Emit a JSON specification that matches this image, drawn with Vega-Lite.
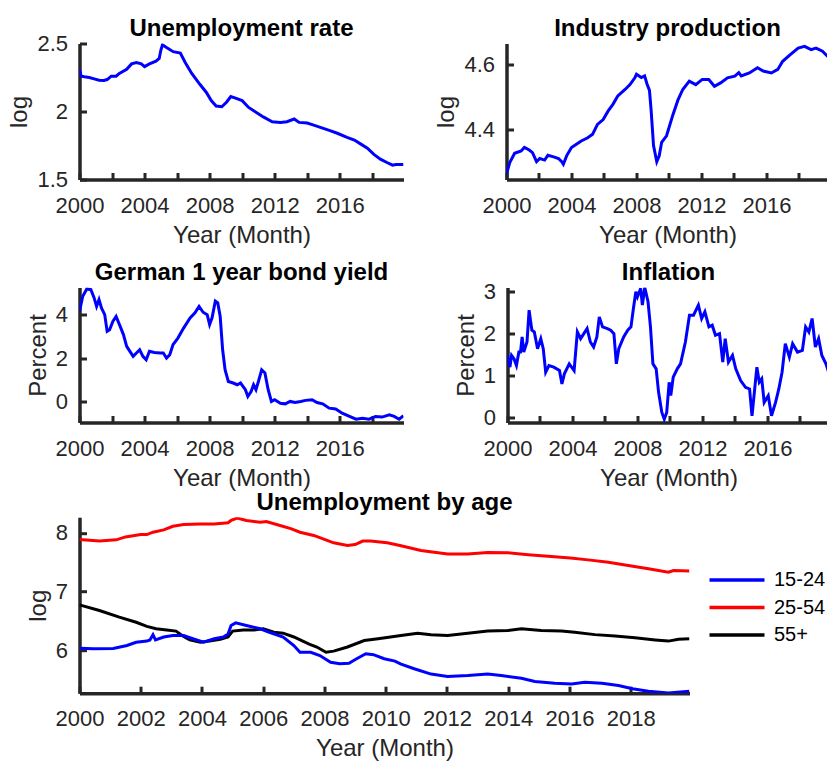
{
  "$schema": "https://vega.github.io/schema/vega-lite/v6.json",
  "autosize": {"type": "pad"},
  "padding": {"left": 6.5, "top": 16.5, "right": 0, "bottom": 0},
  "background": "white",
  "spacing": -0.3,
  "datasets": {
    "unemp": [
      {"t":2000.0,"v":2.31},{"t":2000.1,"v":2.26},{"t":2000.3,"v":2.255},{"t":2000.6,"v":2.25},{"t":2000.9,"v":2.24},{"t":2001.2,"v":2.23},{"t":2001.5,"v":2.228},{"t":2001.7,"v":2.235},{"t":2001.95,"v":2.26},{"t":2002.25,"v":2.26},{"t":2002.45,"v":2.28},{"t":2002.9,"v":2.31},{"t":2003.2,"v":2.35},{"t":2003.5,"v":2.36},{"t":2003.8,"v":2.35},{"t":2004.0,"v":2.33},{"t":2004.3,"v":2.35},{"t":2004.7,"v":2.37},{"t":2004.9,"v":2.39},{"t":2005.0,"v":2.45},{"t":2005.1,"v":2.49},{"t":2005.35,"v":2.47},{"t":2005.76,"v":2.44},{"t":2006.2,"v":2.43},{"t":2006.5,"v":2.36},{"t":2006.9,"v":2.28},{"t":2007.4,"v":2.2},{"t":2007.8,"v":2.14},{"t":2008.1,"v":2.08},{"t":2008.4,"v":2.04},{"t":2008.75,"v":2.035},{"t":2009.05,"v":2.07},{"t":2009.3,"v":2.11},{"t":2009.55,"v":2.1},{"t":2010.0,"v":2.08},{"t":2010.4,"v":2.03},{"t":2010.9,"v":1.99},{"t":2011.3,"v":1.96},{"t":2011.85,"v":1.925},{"t":2012.35,"v":1.92},{"t":2012.75,"v":1.925},{"t":2013.2,"v":1.945},{"t":2013.5,"v":1.92},{"t":2014.0,"v":1.915},{"t":2014.4,"v":1.9},{"t":2014.9,"v":1.88},{"t":2015.4,"v":1.86},{"t":2015.85,"v":1.84},{"t":2016.45,"v":1.81},{"t":2016.9,"v":1.79},{"t":2017.3,"v":1.76},{"t":2017.7,"v":1.73},{"t":2018.1,"v":1.685},{"t":2018.5,"v":1.65},{"t":2018.9,"v":1.625},{"t":2019.25,"v":1.605},{"t":2019.45,"v":1.61},{"t":2019.92,"v":1.61}
    ],
    "indprod": [
      {"t":2000.0,"v":4.262},{"t":2000.2,"v":4.297},{"t":2000.5,"v":4.326},{"t":2000.9,"v":4.333},{"t":2001.1,"v":4.344},{"t":2001.4,"v":4.336},{"t":2001.6,"v":4.328},{"t":2001.85,"v":4.3},{"t":2002.05,"v":4.31},{"t":2002.35,"v":4.305},{"t":2002.55,"v":4.32},{"t":2002.9,"v":4.315},{"t":2003.2,"v":4.31},{"t":2003.4,"v":4.3},{"t":2003.5,"v":4.292},{"t":2003.7,"v":4.318},{"t":2004.0,"v":4.344},{"t":2004.3,"v":4.354},{"t":2004.6,"v":4.364},{"t":2005.0,"v":4.374},{"t":2005.3,"v":4.385},{"t":2005.6,"v":4.415},{"t":2005.95,"v":4.43},{"t":2006.25,"v":4.456},{"t":2006.55,"v":4.477},{"t":2006.85,"v":4.503},{"t":2007.3,"v":4.523},{"t":2007.6,"v":4.538},{"t":2007.9,"v":4.559},{"t":2008.0,"v":4.57},{"t":2008.3,"v":4.56},{"t":2008.5,"v":4.565},{"t":2008.65,"v":4.54},{"t":2008.8,"v":4.52},{"t":2008.9,"v":4.46},{"t":2009.05,"v":4.35},{"t":2009.25,"v":4.3},{"t":2009.4,"v":4.318},{"t":2009.55,"v":4.36},{"t":2009.85,"v":4.38},{"t":2010.25,"v":4.446},{"t":2010.55,"v":4.49},{"t":2010.85,"v":4.523},{"t":2011.25,"v":4.549},{"t":2011.65,"v":4.538},{"t":2012.05,"v":4.554},{"t":2012.45,"v":4.554},{"t":2012.8,"v":4.533},{"t":2013.2,"v":4.544},{"t":2013.6,"v":4.559},{"t":2014.05,"v":4.564},{"t":2014.3,"v":4.575},{"t":2014.45,"v":4.565},{"t":2014.95,"v":4.574},{"t":2015.45,"v":4.59},{"t":2015.8,"v":4.58},{"t":2016.3,"v":4.574},{"t":2016.7,"v":4.585},{"t":2017.0,"v":4.61},{"t":2017.45,"v":4.63},{"t":2017.95,"v":4.651},{"t":2018.35,"v":4.656},{"t":2018.75,"v":4.646},{"t":2019.05,"v":4.651},{"t":2019.45,"v":4.641},{"t":2019.75,"v":4.626},{"t":2019.92,"v":4.62}
    ],
    "bond": [
      {"t":2000.0,"v":4.15},{"t":2000.2,"v":4.85},{"t":2000.45,"v":5.18},{"t":2000.7,"v":5.15},{"t":2000.9,"v":4.77},{"t":2001.05,"v":4.38},{"t":2001.2,"v":4.69},{"t":2001.35,"v":4.31},{"t":2001.55,"v":4.0},{"t":2001.7,"v":3.23},{"t":2001.85,"v":3.3},{"t":2002.05,"v":3.69},{"t":2002.25,"v":3.92},{"t":2002.5,"v":3.46},{"t":2002.7,"v":3.08},{"t":2002.9,"v":2.54},{"t":2003.1,"v":2.31},{"t":2003.3,"v":2.08},{"t":2003.5,"v":2.23},{"t":2003.7,"v":2.38},{"t":2003.9,"v":2.08},{"t":2004.1,"v":1.92},{"t":2004.3,"v":2.31},{"t":2004.6,"v":2.26},{"t":2004.95,"v":2.23},{"t":2005.15,"v":2.23},{"t":2005.35,"v":2.0},{"t":2005.55,"v":2.15},{"t":2005.75,"v":2.62},{"t":2006.05,"v":2.92},{"t":2006.4,"v":3.38},{"t":2006.8,"v":3.85},{"t":2007.1,"v":4.08},{"t":2007.35,"v":4.38},{"t":2007.6,"v":4.11},{"t":2007.85,"v":4.0},{"t":2008.0,"v":3.54},{"t":2008.15,"v":3.85},{"t":2008.35,"v":4.62},{"t":2008.5,"v":4.54},{"t":2008.65,"v":3.92},{"t":2008.8,"v":2.38},{"t":2008.95,"v":1.46},{"t":2009.15,"v":0.92},{"t":2009.45,"v":0.85},{"t":2009.7,"v":0.77},{"t":2009.9,"v":0.85},{"t":2010.2,"v":0.54},{"t":2010.35,"v":0.23},{"t":2010.55,"v":0.46},{"t":2010.7,"v":0.77},{"t":2010.85,"v":0.54},{"t":2011.0,"v":0.92},{"t":2011.2,"v":1.46},{"t":2011.4,"v":1.31},{"t":2011.6,"v":0.54},{"t":2011.8,"v":0.0},{"t":2012.0,"v":0.08},{"t":2012.35,"v":-0.08},{"t":2012.65,"v":-0.11},{"t":2012.95,"v":0.0},{"t":2013.25,"v":-0.05},{"t":2013.6,"v":0.0},{"t":2013.9,"v":0.05},{"t":2014.3,"v":0.08},{"t":2014.6,"v":-0.05},{"t":2014.95,"v":-0.11},{"t":2015.35,"v":-0.31},{"t":2015.75,"v":-0.35},{"t":2016.15,"v":-0.54},{"t":2016.6,"v":-0.69},{"t":2017.0,"v":-0.82},{"t":2017.4,"v":-0.77},{"t":2017.8,"v":-0.82},{"t":2018.2,"v":-0.69},{"t":2018.6,"v":-0.72},{"t":2019.05,"v":-0.62},{"t":2019.35,"v":-0.69},{"t":2019.65,"v":-0.82},{"t":2019.92,"v":-0.66}
    ],
    "infl": [
      {"t":2000.0,"v":1.48},{"t":2000.15,"v":1.2},{"t":2000.25,"v":1.48},{"t":2000.4,"v":1.4},{"t":2000.55,"v":1.24},{"t":2000.7,"v":1.56},{"t":2000.8,"v":1.56},{"t":2000.9,"v":1.92},{"t":2001.0,"v":1.56},{"t":2001.2,"v":1.8},{"t":2001.33,"v":2.56},{"t":2001.5,"v":2.08},{"t":2001.65,"v":2.04},{"t":2001.85,"v":1.64},{"t":2002.05,"v":1.88},{"t":2002.2,"v":1.64},{"t":2002.35,"v":1.08},{"t":2002.55,"v":1.24},{"t":2002.85,"v":1.2},{"t":2003.2,"v":1.12},{"t":2003.35,"v":0.8},{"t":2003.5,"v":1.04},{"t":2003.8,"v":1.28},{"t":2004.1,"v":1.12},{"t":2004.3,"v":2.04},{"t":2004.5,"v":1.88},{"t":2004.7,"v":2.0},{"t":2004.9,"v":2.12},{"t":2005.1,"v":1.8},{"t":2005.3,"v":1.68},{"t":2005.5,"v":1.92},{"t":2005.65,"v":2.4},{"t":2005.85,"v":2.16},{"t":2006.15,"v":2.12},{"t":2006.35,"v":2.08},{"t":2006.55,"v":2.0},{"t":2006.7,"v":1.28},{"t":2006.85,"v":1.64},{"t":2007.15,"v":1.92},{"t":2007.4,"v":2.08},{"t":2007.6,"v":2.16},{"t":2007.75,"v":2.6},{"t":2007.9,"v":3.0},{"t":2008.0,"v":2.88},{"t":2008.2,"v":3.08},{"t":2008.3,"v":2.68},{"t":2008.45,"v":3.1},{"t":2008.65,"v":2.76},{"t":2008.8,"v":2.16},{"t":2008.95,"v":1.28},{"t":2009.15,"v":1.16},{"t":2009.3,"v":0.6},{"t":2009.5,"v":0.12},{"t":2009.65,"v":-0.04},{"t":2009.8,"v":0.12},{"t":2009.95,"v":0.84},{"t":2010.05,"v":0.52},{"t":2010.2,"v":0.96},{"t":2010.45,"v":1.16},{"t":2010.65,"v":1.28},{"t":2010.95,"v":1.8},{"t":2011.2,"v":2.44},{"t":2011.45,"v":2.44},{"t":2011.75,"v":2.68},{"t":2011.95,"v":2.36},{"t":2012.15,"v":2.52},{"t":2012.4,"v":2.16},{"t":2012.6,"v":2.2},{"t":2012.8,"v":1.96},{"t":2013.05,"v":2.0},{"t":2013.25,"v":1.32},{"t":2013.4,"v":1.88},{"t":2013.6,"v":1.32},{"t":2013.85,"v":1.48},{"t":2014.05,"v":1.16},{"t":2014.35,"v":0.88},{"t":2014.65,"v":0.72},{"t":2014.9,"v":0.68},{"t":2015.05,"v":0.04},{"t":2015.35,"v":1.2},{"t":2015.5,"v":0.84},{"t":2015.65,"v":0.92},{"t":2015.8,"v":0.36},{"t":2016.05,"v":0.52},{"t":2016.25,"v":0.04},{"t":2016.5,"v":0.36},{"t":2016.7,"v":0.68},{"t":2016.9,"v":1.08},{"t":2017.1,"v":1.76},{"t":2017.35,"v":1.44},{"t":2017.55,"v":1.76},{"t":2017.85,"v":1.56},{"t":2018.15,"v":1.6},{"t":2018.35,"v":2.16},{"t":2018.55,"v":2.04},{"t":2018.75,"v":2.36},{"t":2018.95,"v":1.68},{"t":2019.15,"v":1.88},{"t":2019.35,"v":1.48},{"t":2019.6,"v":1.28},{"t":2019.8,"v":1.04},{"t":2019.92,"v":1.0}
    ],
    "byage": [
      {"t":2000.0,"g":"25-54","v":7.887},{"t":2000.65,"g":"25-54","v":7.86},{"t":2001.2,"g":"25-54","v":7.88},{"t":2001.5,"g":"25-54","v":7.93},{"t":2002.0,"g":"25-54","v":7.97},{"t":2002.2,"g":"25-54","v":7.97},{"t":2002.4,"g":"25-54","v":8.01},{"t":2002.75,"g":"25-54","v":8.05},{"t":2003.05,"g":"25-54","v":8.11},{"t":2003.4,"g":"25-54","v":8.14},{"t":2003.95,"g":"25-54","v":8.15},{"t":2004.4,"g":"25-54","v":8.15},{"t":2004.85,"g":"25-54","v":8.17},{"t":2004.95,"g":"25-54","v":8.21},{"t":2005.15,"g":"25-54","v":8.25},{"t":2005.45,"g":"25-54","v":8.21},{"t":2005.9,"g":"25-54","v":8.18},{"t":2006.1,"g":"25-54","v":8.19},{"t":2006.55,"g":"25-54","v":8.125},{"t":2006.9,"g":"25-54","v":8.07},{"t":2007.2,"g":"25-54","v":8.01},{"t":2007.65,"g":"25-54","v":7.955},{"t":2008.0,"g":"25-54","v":7.887},{"t":2008.3,"g":"25-54","v":7.83},{"t":2008.75,"g":"25-54","v":7.785},{"t":2009.0,"g":"25-54","v":7.8},{"t":2009.25,"g":"25-54","v":7.86},{"t":2009.5,"g":"25-54","v":7.86},{"t":2010.05,"g":"25-54","v":7.83},{"t":2010.5,"g":"25-54","v":7.78},{"t":2011.15,"g":"25-54","v":7.7},{"t":2012.02,"g":"25-54","v":7.64},{"t":2012.68,"g":"25-54","v":7.64},{"t":2013.33,"g":"25-54","v":7.665},{"t":2013.99,"g":"25-54","v":7.66},{"t":2014.65,"g":"25-54","v":7.626},{"t":2015.3,"g":"25-54","v":7.6},{"t":2016.03,"g":"25-54","v":7.57},{"t":2016.61,"g":"25-54","v":7.54},{"t":2017.27,"g":"25-54","v":7.5},{"t":2017.92,"g":"25-54","v":7.445},{"t":2018.58,"g":"25-54","v":7.39},{"t":2019.23,"g":"25-54","v":7.33},{"t":2019.4,"g":"25-54","v":7.36},{"t":2019.92,"g":"25-54","v":7.35},
      {"t":2000.0,"g":"55+","v":6.776},{"t":2000.65,"g":"55+","v":6.68},{"t":2001.3,"g":"55+","v":6.567},{"t":2001.85,"g":"55+","v":6.48},{"t":2002.2,"g":"55+","v":6.41},{"t":2002.5,"g":"55+","v":6.37},{"t":2002.85,"g":"55+","v":6.35},{"t":2003.15,"g":"55+","v":6.33},{"t":2003.4,"g":"55+","v":6.24},{"t":2003.6,"g":"55+","v":6.18},{"t":2003.95,"g":"55+","v":6.14},{"t":2004.25,"g":"55+","v":6.16},{"t":2004.6,"g":"55+","v":6.19},{"t":2004.85,"g":"55+","v":6.23},{"t":2005.0,"g":"55+","v":6.33},{"t":2005.35,"g":"55+","v":6.35},{"t":2005.7,"g":"55+","v":6.35},{"t":2006.0,"g":"55+","v":6.37},{"t":2006.35,"g":"55+","v":6.31},{"t":2006.65,"g":"55+","v":6.295},{"t":2007.0,"g":"55+","v":6.23},{"t":2007.5,"g":"55+","v":6.11},{"t":2007.75,"g":"55+","v":6.06},{"t":2008.05,"g":"55+","v":5.97},{"t":2008.3,"g":"55+","v":5.99},{"t":2008.75,"g":"55+","v":6.06},{"t":2009.3,"g":"55+","v":6.17},{"t":2009.75,"g":"55+","v":6.2},{"t":2010.5,"g":"55+","v":6.255},{"t":2011.04,"g":"55+","v":6.295},{"t":2011.48,"g":"55+","v":6.27},{"t":2012.02,"g":"55+","v":6.255},{"t":2012.68,"g":"55+","v":6.295},{"t":2013.33,"g":"55+","v":6.33},{"t":2013.99,"g":"55+","v":6.34},{"t":2014.43,"g":"55+","v":6.37},{"t":2015.08,"g":"55+","v":6.34},{"t":2015.74,"g":"55+","v":6.33},{"t":2016.17,"g":"55+","v":6.31},{"t":2016.83,"g":"55+","v":6.27},{"t":2017.49,"g":"55+","v":6.245},{"t":2018.14,"g":"55+","v":6.215},{"t":2018.8,"g":"55+","v":6.18},{"t":2019.23,"g":"55+","v":6.16},{"t":2019.56,"g":"55+","v":6.19},{"t":2019.92,"g":"55+","v":6.2},
      {"t":2000.0,"g":"15-24","v":6.04},{"t":2000.45,"g":"15-24","v":6.03},{"t":2001.1,"g":"15-24","v":6.035},{"t":2001.55,"g":"15-24","v":6.085},{"t":2001.85,"g":"15-24","v":6.14},{"t":2002.2,"g":"15-24","v":6.16},{"t":2002.3,"g":"15-24","v":6.18},{"t":2002.4,"g":"15-24","v":6.27},{"t":2002.48,"g":"15-24","v":6.18},{"t":2002.75,"g":"15-24","v":6.23},{"t":2003.05,"g":"15-24","v":6.255},{"t":2003.4,"g":"15-24","v":6.255},{"t":2003.7,"g":"15-24","v":6.2},{"t":2004.05,"g":"15-24","v":6.14},{"t":2004.4,"g":"15-24","v":6.2},{"t":2004.7,"g":"15-24","v":6.23},{"t":2004.85,"g":"15-24","v":6.28},{"t":2004.95,"g":"15-24","v":6.425},{"t":2005.1,"g":"15-24","v":6.47},{"t":2005.45,"g":"15-24","v":6.425},{"t":2005.9,"g":"15-24","v":6.37},{"t":2006.2,"g":"15-24","v":6.31},{"t":2006.65,"g":"15-24","v":6.23},{"t":2007.0,"g":"15-24","v":6.085},{"t":2007.2,"g":"15-24","v":5.97},{"t":2007.55,"g":"15-24","v":5.97},{"t":2007.85,"g":"15-24","v":5.915},{"t":2008.2,"g":"15-24","v":5.8},{"t":2008.5,"g":"15-24","v":5.775},{"t":2008.8,"g":"15-24","v":5.785},{"t":2009.05,"g":"15-24","v":5.86},{"t":2009.35,"g":"15-24","v":5.945},{"t":2009.6,"g":"15-24","v":5.93},{"t":2009.95,"g":"15-24","v":5.86},{"t":2010.3,"g":"15-24","v":5.82},{"t":2010.5,"g":"15-24","v":5.77},{"t":2010.93,"g":"15-24","v":5.69},{"t":2011.48,"g":"15-24","v":5.6},{"t":2012.02,"g":"15-24","v":5.558},{"t":2012.68,"g":"15-24","v":5.575},{"t":2013.33,"g":"15-24","v":5.6},{"t":2013.77,"g":"15-24","v":5.575},{"t":2014.43,"g":"15-24","v":5.53},{"t":2014.87,"g":"15-24","v":5.474},{"t":2015.52,"g":"15-24","v":5.445},{"t":2016.07,"g":"15-24","v":5.433},{"t":2016.5,"g":"15-24","v":5.46},{"t":2017.06,"g":"15-24","v":5.445},{"t":2017.6,"g":"15-24","v":5.405},{"t":2018.06,"g":"15-24","v":5.35},{"t":2018.58,"g":"15-24","v":5.31},{"t":2019.23,"g":"15-24","v":5.28},{"t":2019.92,"g":"15-24","v":5.31}
    ]
  },
  "vconcat": [
    {
      "spacing": 13,
      "vconcat": [
        {
          "spacing": 31,
          "hconcat": [
            {
              "title": {"text": "Unemployment rate", "dy": 11},
              "width": 324, "height": 136,
              "data": {"name": "unemp"},
              "mark": {"type": "line", "color": "#0000ff", "strokeWidth": 3, "clip": true},
              "encoding": {
                "x": {"field": "t", "type": "quantitative", "scale": {"domain": [2000, 2019.92], "nice": false, "zero": false},
                      "axis": {"title": "Year (Month)", "values": [2000,2002,2004,2006,2008,2010,2012,2014,2016,2018], "format": "d", "labelExpr": "datum.value % 4 === 0 ? datum.label : ''"}},
                "y": {"field": "v", "type": "quantitative", "scale": {"domain": [1.5, 2.5], "nice": false, "zero": false},
                      "axis": {"title": "log", "values": [1.5, 2, 2.5], "format": "~g"}}
              }
            },
            {
              "title": {"text": "Industry production"},
              "width": 322, "height": 136,
              "data": {"name": "indprod"},
              "mark": {"type": "line", "color": "#0000ff", "strokeWidth": 3, "clip": true},
              "encoding": {
                "x": {"field": "t", "type": "quantitative", "scale": {"domain": [2000, 2019.82], "nice": false, "zero": false},
                      "axis": {"title": "Year (Month)", "values": [2000,2002,2004,2006,2008,2010,2012,2014,2016,2018], "format": "d", "labelExpr": "datum.value % 4 === 0 ? datum.label : ''"}},
                "y": {"field": "v", "type": "quantitative", "scale": {"domain": [4.245, 4.665], "nice": false, "zero": false},
                      "axis": {"title": "log", "values": [4.4, 4.6], "format": "~g"}}
              }
            }
          ]
        },
        {
          "spacing": 31,
          "hconcat": [
            {
              "title": {"text": "German 1 year bond yield"},
              "width": 324, "height": 135,
              "data": {"name": "bond"},
              "mark": {"type": "line", "color": "#0000ff", "strokeWidth": 3, "clip": true},
              "encoding": {
                "x": {"field": "t", "type": "quantitative", "scale": {"domain": [2000, 2019.92], "nice": false, "zero": false},
                      "axis": {"title": "Year (Month)", "values": [2000,2002,2004,2006,2008,2010,2012,2014,2016,2018], "format": "d", "labelExpr": "datum.value % 4 === 0 ? datum.label : ''"}},
                "y": {"field": "v", "type": "quantitative", "scale": {"domain": [-0.97, 5.25], "nice": false, "zero": false},
                      "axis": {"title": ["", "Percent"], "titleLineHeight": 19, "values": [0, 2, 4], "format": "~g"}}
              }
            },
            {
              "title": {"text": "Inflation", "dy": 7},
              "width": 322, "height": 135,
              "data": {"name": "infl"},
              "mark": {"type": "line", "color": "#0000ff", "strokeWidth": 3, "clip": true},
              "encoding": {
                "x": {"field": "t", "type": "quantitative", "scale": {"domain": [2000, 2019.82], "nice": false, "zero": false},
                      "axis": {"title": "Year (Month)", "values": [2000,2002,2004,2006,2008,2010,2012,2014,2016,2018], "format": "d", "labelExpr": "datum.value % 4 === 0 ? datum.label : ''"}},
                "y": {"field": "v", "type": "quantitative", "scale": {"domain": [-0.12, 3.1], "nice": false, "zero": false},
                      "axis": {"title": ["", "Percent"], "titleLineHeight": 19, "values": [0, 1, 2, 3], "format": "~g"}}
              }
            }
          ]
        }
      ]
    },
    {
      "hconcat": [
        {
          "title": {"text": "Unemployment by age"},
          "width": 610, "height": 176,
          "data": {"name": "byage"},
          "mark": {"type": "line", "strokeWidth": 3, "clip": true},
          "encoding": {
            "x": {"field": "t", "type": "quantitative", "scale": {"domain": [2000, 2019.92], "nice": false, "zero": false},
                  "axis": {"title": "Year (Month)", "values": [2000,2002,2004,2006,2008,2010,2012,2014,2016,2018], "format": "d"}},
            "y": {"field": "v", "type": "quantitative", "scale": {"domain": [5.275, 8.265], "nice": false, "zero": false},
                  "axis": {"title": ["", "log"], "titleLineHeight": 19, "values": [6, 7, 8], "format": "~g"}},
            "color": {"field": "g", "type": "nominal",
                      "scale": {"domain": ["15-24", "25-54", "55+"], "range": ["#0000ff", "#ff0000", "#000000"]},
                      "legend": {"title": null, "orient": "none", "legendX": 647.5, "legendY": 526.5, "padding": 0,
                                 "symbolType": "M-5,0H5", "symbolSize": 121, "symbolStrokeWidth": 3.5,
                                 "labelFontSize": 20, "labelColor": "#000000", "labelFont": "Liberation Sans",
                                 "labelOffset": 27, "rowPadding": 7.5}}
          }
        }
      ]
    }
  ],
  "config": {
    "view": {"stroke": null},
    "font": "Liberation Sans",
    "axis": {
      "grid": false, "ticks": true, "tickSize": -7,
      "labelFlush": false, "labelOverlap": false,
      "domainColor": "#262626", "domainWidth": 3.5,
      "tickColor": "#262626", "tickWidth": 3,
      "labelColor": "#262626", "labelFontSize": 22, "labelFont": "Liberation Sans",
      "titleColor": "#262626", "titleFontSize": 24, "titleFontWeight": "normal", "titleFont": "Liberation Sans"
    },
    "axisX": {"labelPadding": 22.5, "titlePadding": 7},
    "axisY": {"labelPadding": 19, "titlePadding": 5},
    "title": {"fontSize": 24, "fontWeight": "bold", "color": "#000000", "frame": "group", "anchor": "middle", "offset": 2.5, "baseline": "alphabetic", "font": "Liberation Sans"}
  }
}
